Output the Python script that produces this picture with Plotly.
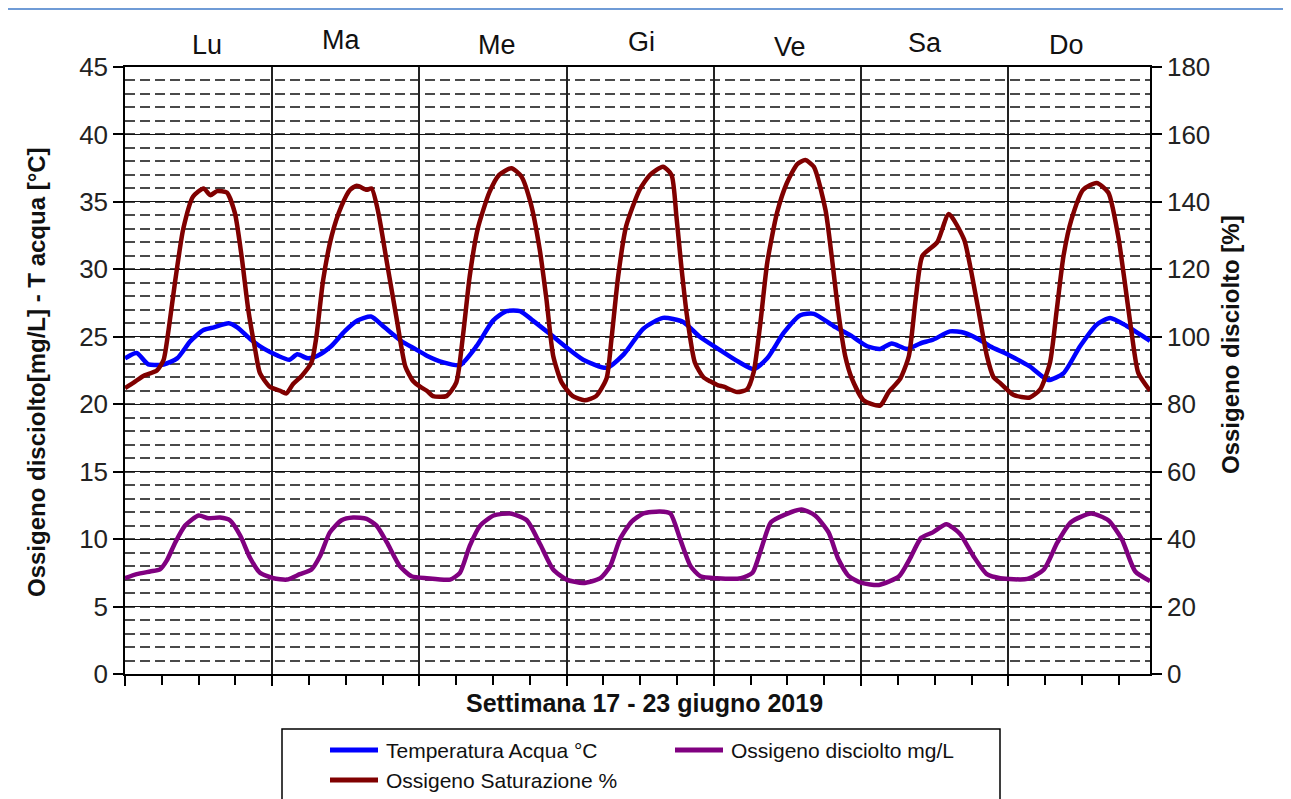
import plotly.graph_objects as go

# ---------------- data ----------------
temp_hours = [0, 1.9, 3.8, 6.3, 8.5, 10.7, 12.8, 14.5, 16.9, 18.3, 20.5, 22.7, 24.9, 26.8, 28.1, 29.8,
              31.4, 33.6, 35.8, 37.9, 40.1, 42.3, 45.0, 47.3, 49.2, 51.9, 54.6, 57.3, 60.0, 62.2, 64.4,
              66.5, 69.3, 72.0, 74.7, 78.5, 81.3, 84.5, 87.7, 91.0, 93.7, 96.7, 99.8, 102.5, 104.7,
              107.4, 110.1, 112.3, 115.5, 118.3, 121.0, 123.1, 125.0, 127.5, 129.6, 131.8, 134.5,
              136.8, 140.0, 141.0, 144.3, 147.5, 150.5, 153.0, 155.7, 158.4, 160.6, 163.3, 167.1]
temp_values = [23.4, 23.8, 22.95, 22.95, 23.4, 24.7, 25.5, 25.7, 26.0, 25.7, 24.8, 24.1, 23.6, 23.3, 23.7, 23.4,
               23.6, 24.3, 25.4, 26.2, 26.5, 25.7, 24.7, 24.1, 23.6, 23.1, 22.9, 24.3, 26.2, 26.9, 26.9,
               26.2, 25.2, 24.2, 23.3, 22.7, 23.7, 25.6, 26.4, 26.1, 25.0, 24.1, 23.2, 22.6, 23.4,
               25.3, 26.6, 26.7, 25.8, 25.1, 24.3, 24.1, 24.5, 24.1, 24.5, 24.8, 25.4,
               25.3, 24.6, 24.3, 23.6, 22.8, 21.8, 22.3, 24.3, 25.9, 26.4, 25.8, 24.7]

do_hours = [0, 1.9, 4.1, 5.7, 6.8, 8.2, 9.8, 12.0, 13.6, 15.5, 17.1, 18.8, 20.4, 22.0, 24.2, 26.4, 28.5,
            30.4, 31.8, 33.4, 35.3, 37.2, 39.4, 41.0, 42.7, 44.8, 46.7, 49.2, 53.0, 54.6, 56.2, 57.9,
            60.1, 62.8, 65.5, 67.7, 69.8, 72.0, 74.7, 77.5, 79.1, 80.7, 82.6, 84.5, 87.2, 88.9, 90.5,
            92.2, 93.8, 96.5, 100.4, 102.3, 103.7, 105.3, 107.5, 110.3, 112.5, 114.7, 116.3, 118.0,
            120.1, 122.9, 126.2, 127.9, 129.8, 131.7, 133.9, 136.1, 138.3, 140.5, 142.7, 147.1, 149.8,
            152.0, 154.2, 157.5, 160.3, 162.5, 164.7, 167.1]
do_values = [7.1, 7.4, 7.6, 7.75, 8.4, 9.75, 11.0, 11.75, 11.55, 11.6, 11.4, 10.25, 8.6, 7.5, 7.1, 7.0, 7.4,
             7.75, 8.75, 10.5, 11.4, 11.6, 11.5, 11.0, 9.75, 8.0, 7.25, 7.1, 7.0, 7.5, 9.5, 11.0,
             11.75, 11.9, 11.4, 9.6, 7.75, 7.0, 6.75, 7.1, 8.0, 10.0, 11.3, 11.9, 12.05, 11.9, 10.0,
             8.0, 7.25, 7.1, 7.1, 7.5, 9.25, 11.25, 11.8, 12.2, 11.75, 10.5, 8.5, 7.25,
             6.75, 6.6, 7.25, 8.5, 10.1, 10.5, 11.1, 10.4, 8.75, 7.4, 7.1, 7.05, 7.75,
             9.75, 11.25, 11.9, 11.4, 10.0, 7.6, 6.9]

sat_hours = [0, 1.4, 3.0, 5.2, 6.3, 7.1, 8.2, 9.5, 11.1, 12.8, 13.9, 15.0, 16.6, 17.9, 19.0, 20.1, 21.2,
             22.0, 23.6, 25.3, 26.3, 27.4, 28.8, 30.4, 31.2, 32.3, 33.7, 35.3, 36.7, 37.8, 39.4, 40.2,
             41.3, 42.7, 44.3, 45.7, 47.0, 48.1, 49.2, 50.2, 52.4, 54.0, 55.1, 56.2, 57.5, 59.4, 61.0,
             63.0, 64.6, 66.2, 67.6, 68.7, 69.8, 71.2, 73.0, 74.9, 76.8, 78.5, 79.3, 80.4, 81.7, 83.9,
             85.6, 87.7, 89.1, 89.9, 90.7, 91.6, 92.9, 94.3, 95.4, 96.7, 97.6, 99.8, 101.4, 102.5,
             103.6, 104.7, 106.3, 107.9, 109.6, 110.9, 112.3, 114.2, 115.2, 116.3, 117.4, 118.5,
             120.4, 123.1, 124.5, 126.4, 127.8, 128.9, 130.0, 132.4, 134.3, 136.8, 137.8, 139.2,
             140.5, 141.6, 142.6, 144.8, 147.5, 149.2, 150.8, 151.9, 153.0, 154.3, 156.2, 158.4,
             160.3, 161.9, 163.0, 164.1, 165.2, 167.1]
sat_values = [84.8, 86.4, 88.4, 90.0, 93.2, 102.0, 116.8, 132.0, 141.6, 144.0, 142.0, 143.2, 142.8, 136.8,
              124.0, 108.0, 96.4, 89.2, 85.2, 84.0, 83.2, 86.0, 88.4, 92.4, 100.0, 116.8, 130.0, 138.8,
              143.6, 144.8, 143.6, 144.0, 136.8, 122.0, 105.2, 91.2, 86.8, 85.2, 84.0, 82.4, 82.4, 86.4,
              100.4, 118.0, 132.0, 142.8, 148.0, 150.0, 147.6, 139.2, 126.0, 111.2, 94.4, 86.4, 82.4,
              81.2, 82.4, 87.6, 99.2, 118.0, 132.8, 143.6, 148.0, 150.4, 148.0, 135.6, 120.8, 106.4,
              92.4, 88.0, 86.8, 85.6, 85.2, 83.6, 84.4, 89.6, 104.4, 122.0, 136.8, 145.6, 151.2, 152.4,
              150.4, 137.6, 124.0, 107.2, 94.4, 87.6, 81.2, 79.6, 83.6, 87.6, 94.4, 111.2, 124.0, 128.0,
              136.4, 128.8, 120.8, 107.2, 94.4, 88.0, 86.4, 82.8, 82.0, 84.4, 92.4, 108.0, 124.0, 134.8,
              143.6, 145.6, 142.8, 130.0, 116.0, 101.2, 89.2, 84.0]

day_labels = ["Lu", "Ma", "Me", "Gi", "Ve", "Sa", "Do"]
y_left_ticks = list(range(0, 46, 5))
y_right_ticks = list(range(0, 181, 20))

legend_names = ["Temperatura Acqua °C", "Ossigeno disciolto mg/L", "Ossigeno Saturazione %"]
colors = ["#0000FF", "#800080", "#800000"]

# ---------------- figure ----------------
# The page body has an 8px default margin; figure is sized so page coords line up.
OFF = 8
W, H = 1291 - OFF, 799 - OFF
PLOT_LEFT, PLOT_RIGHT, PLOT_TOP, PLOT_BOTTOM = 125, 1150, 67, 674  # page pixels
L = PLOT_LEFT - OFF
T = PLOT_TOP - OFF
R = W - (PLOT_RIGHT - OFF)
B = H - (PLOT_BOTTOM - OFF)
pw = PLOT_RIGHT - PLOT_LEFT
ph = PLOT_BOTTOM - PLOT_TOP


def px_x(px):
    return (px - PLOT_LEFT) / pw


def px_y(py):
    return (PLOT_BOTTOM - py) / ph


FONT = "Liberation Sans, Arial, sans-serif"
LW = 4.5

fig = go.Figure()
fig.add_trace(go.Scatter(x=temp_hours, y=temp_values, mode="lines", name=legend_names[0],
                         line=dict(color=colors[0], width=LW, shape="spline", smoothing=0.6),
                         showlegend=False, yaxis="y"))
fig.add_trace(go.Scatter(x=do_hours, y=do_values, mode="lines", name=legend_names[1],
                         line=dict(color=colors[1], width=LW, shape="spline", smoothing=0.6),
                         showlegend=False, yaxis="y"))
fig.add_trace(go.Scatter(x=sat_hours, y=sat_values, mode="lines", name=legend_names[2],
                         line=dict(color=colors[2], width=LW, shape="spline", smoothing=0.6),
                         showlegend=False, yaxis="y2"))

x_end = 167.1
fig.update_layout(
    width=W, height=H,
    margin=dict(l=L, r=R, t=T, b=B, pad=0),
    paper_bgcolor="white", plot_bgcolor="white",
    font=dict(family=FONT, color="black"),
    xaxis=dict(range=[0, x_end], tickmode="linear", tick0=0, dtick=24,
               showticklabels=False, ticks="outside", ticklen=10, tickwidth=1.5, tickcolor="black",
               showgrid=True, gridcolor="#222", gridwidth=1.5,
               showline=True, linecolor="black", linewidth=1.5, mirror=True,
               minor=dict(tickmode="linear", tick0=0, dtick=6, ticks="outside", ticklen=9,
                          tickwidth=1.5, tickcolor="black", showgrid=False),
               zeroline=False, fixedrange=True),
    yaxis=dict(range=[0, 45], tickmode="array", tickvals=y_left_ticks,
               ticktext=[str(v) for v in y_left_ticks],
               ticks="outside", ticklen=10, tickwidth=1.5, tickcolor="black",
               tickfont=dict(size=26, family=FONT, color="#222"),
               showgrid=True, gridcolor="#111", gridwidth=1.2,
               minor=dict(tickmode="linear", tick0=0, dtick=1, showgrid=True,
                          gridcolor="#4a4a4a", gridwidth=1.5, griddash="10px,5px", ticks=""),
               showline=True, linecolor="black", linewidth=1.5,
               zeroline=False, fixedrange=True),
    yaxis2=dict(range=[0, 180], tickmode="array", tickvals=y_right_ticks,
                ticktext=[str(v) for v in y_right_ticks],
                overlaying="y", side="right",
                ticks="outside", ticklen=10, tickwidth=1.5, tickcolor="black",
                tickfont=dict(size=26, family=FONT, color="#222"),
                showgrid=False, showline=True, linecolor="black", linewidth=1.5,
                zeroline=False, fixedrange=True),
)

# day labels at top
day_px = [207, 341, 497, 641, 790, 925, 1066]
day_py = [45, 40, 45, 42, 47, 43, 45]
for lab, dx, dy in zip(day_labels, day_px, day_py):
    fig.add_annotation(text=lab, xref="paper", yref="paper", x=px_x(dx), y=px_y(dy),
                       xanchor="center", yanchor="middle", showarrow=False,
                       font=dict(size=27, family=FONT, color="#111"))

# axis titles
fig.add_annotation(text="<b>Settimana 17 - 23 giugno 2019</b>", xref="paper", yref="paper",
                   x=px_x(644), y=px_y(703), xanchor="center", yanchor="middle", showarrow=False,
                   font=dict(size=25, family=FONT, color="#111"))
fig.add_annotation(text="<b>Ossigeno disciolto[mg/L] - T acqua [°C]</b>", xref="paper", yref="paper",
                   x=px_x(36), y=px_y(372), xanchor="center", yanchor="middle", textangle=-90,
                   showarrow=False, font=dict(size=24, family=FONT, color="#111"))
fig.add_annotation(text="<b>Ossigeno disciolto [%]</b>", xref="paper", yref="paper",
                   x=px_x(1230), y=px_y(345), xanchor="center", yanchor="middle", textangle=-90,
                   showarrow=False, font=dict(size=24, family=FONT, color="#111"))

# custom legend box
fig.add_shape(type="rect", xref="paper", yref="paper",
              x0=px_x(282), x1=px_x(1000), y0=px_y(729), y1=px_y(830),
              line=dict(color="black", width=1.5), fillcolor="white", layer="above")
legend_pos = [(330, 750), (675, 750), (330, 780)]
for name, col, (lx, ly) in zip(legend_names, colors, legend_pos):
    fig.add_shape(type="line", xref="paper", yref="paper",
                  x0=px_x(lx), x1=px_x(lx + 48), y0=px_y(ly), y1=px_y(ly),
                  line=dict(color=col, width=5), layer="above")
    fig.add_annotation(text=name, xref="paper", yref="paper", x=px_x(lx + 54), y=px_y(ly),
                       xanchor="left", yanchor="middle", showarrow=False,
                       font=dict(size=21, family=FONT, color="#111"))

# top ruler line (page artifact)
fig.add_shape(type="line", xref="paper", yref="paper",
              x0=px_x(OFF), x1=px_x(1291), y0=px_y(OFF + 1), y1=px_y(OFF + 1),
              line=dict(color="#6f9bd6", width=2))

fig.write_html("out.html")
